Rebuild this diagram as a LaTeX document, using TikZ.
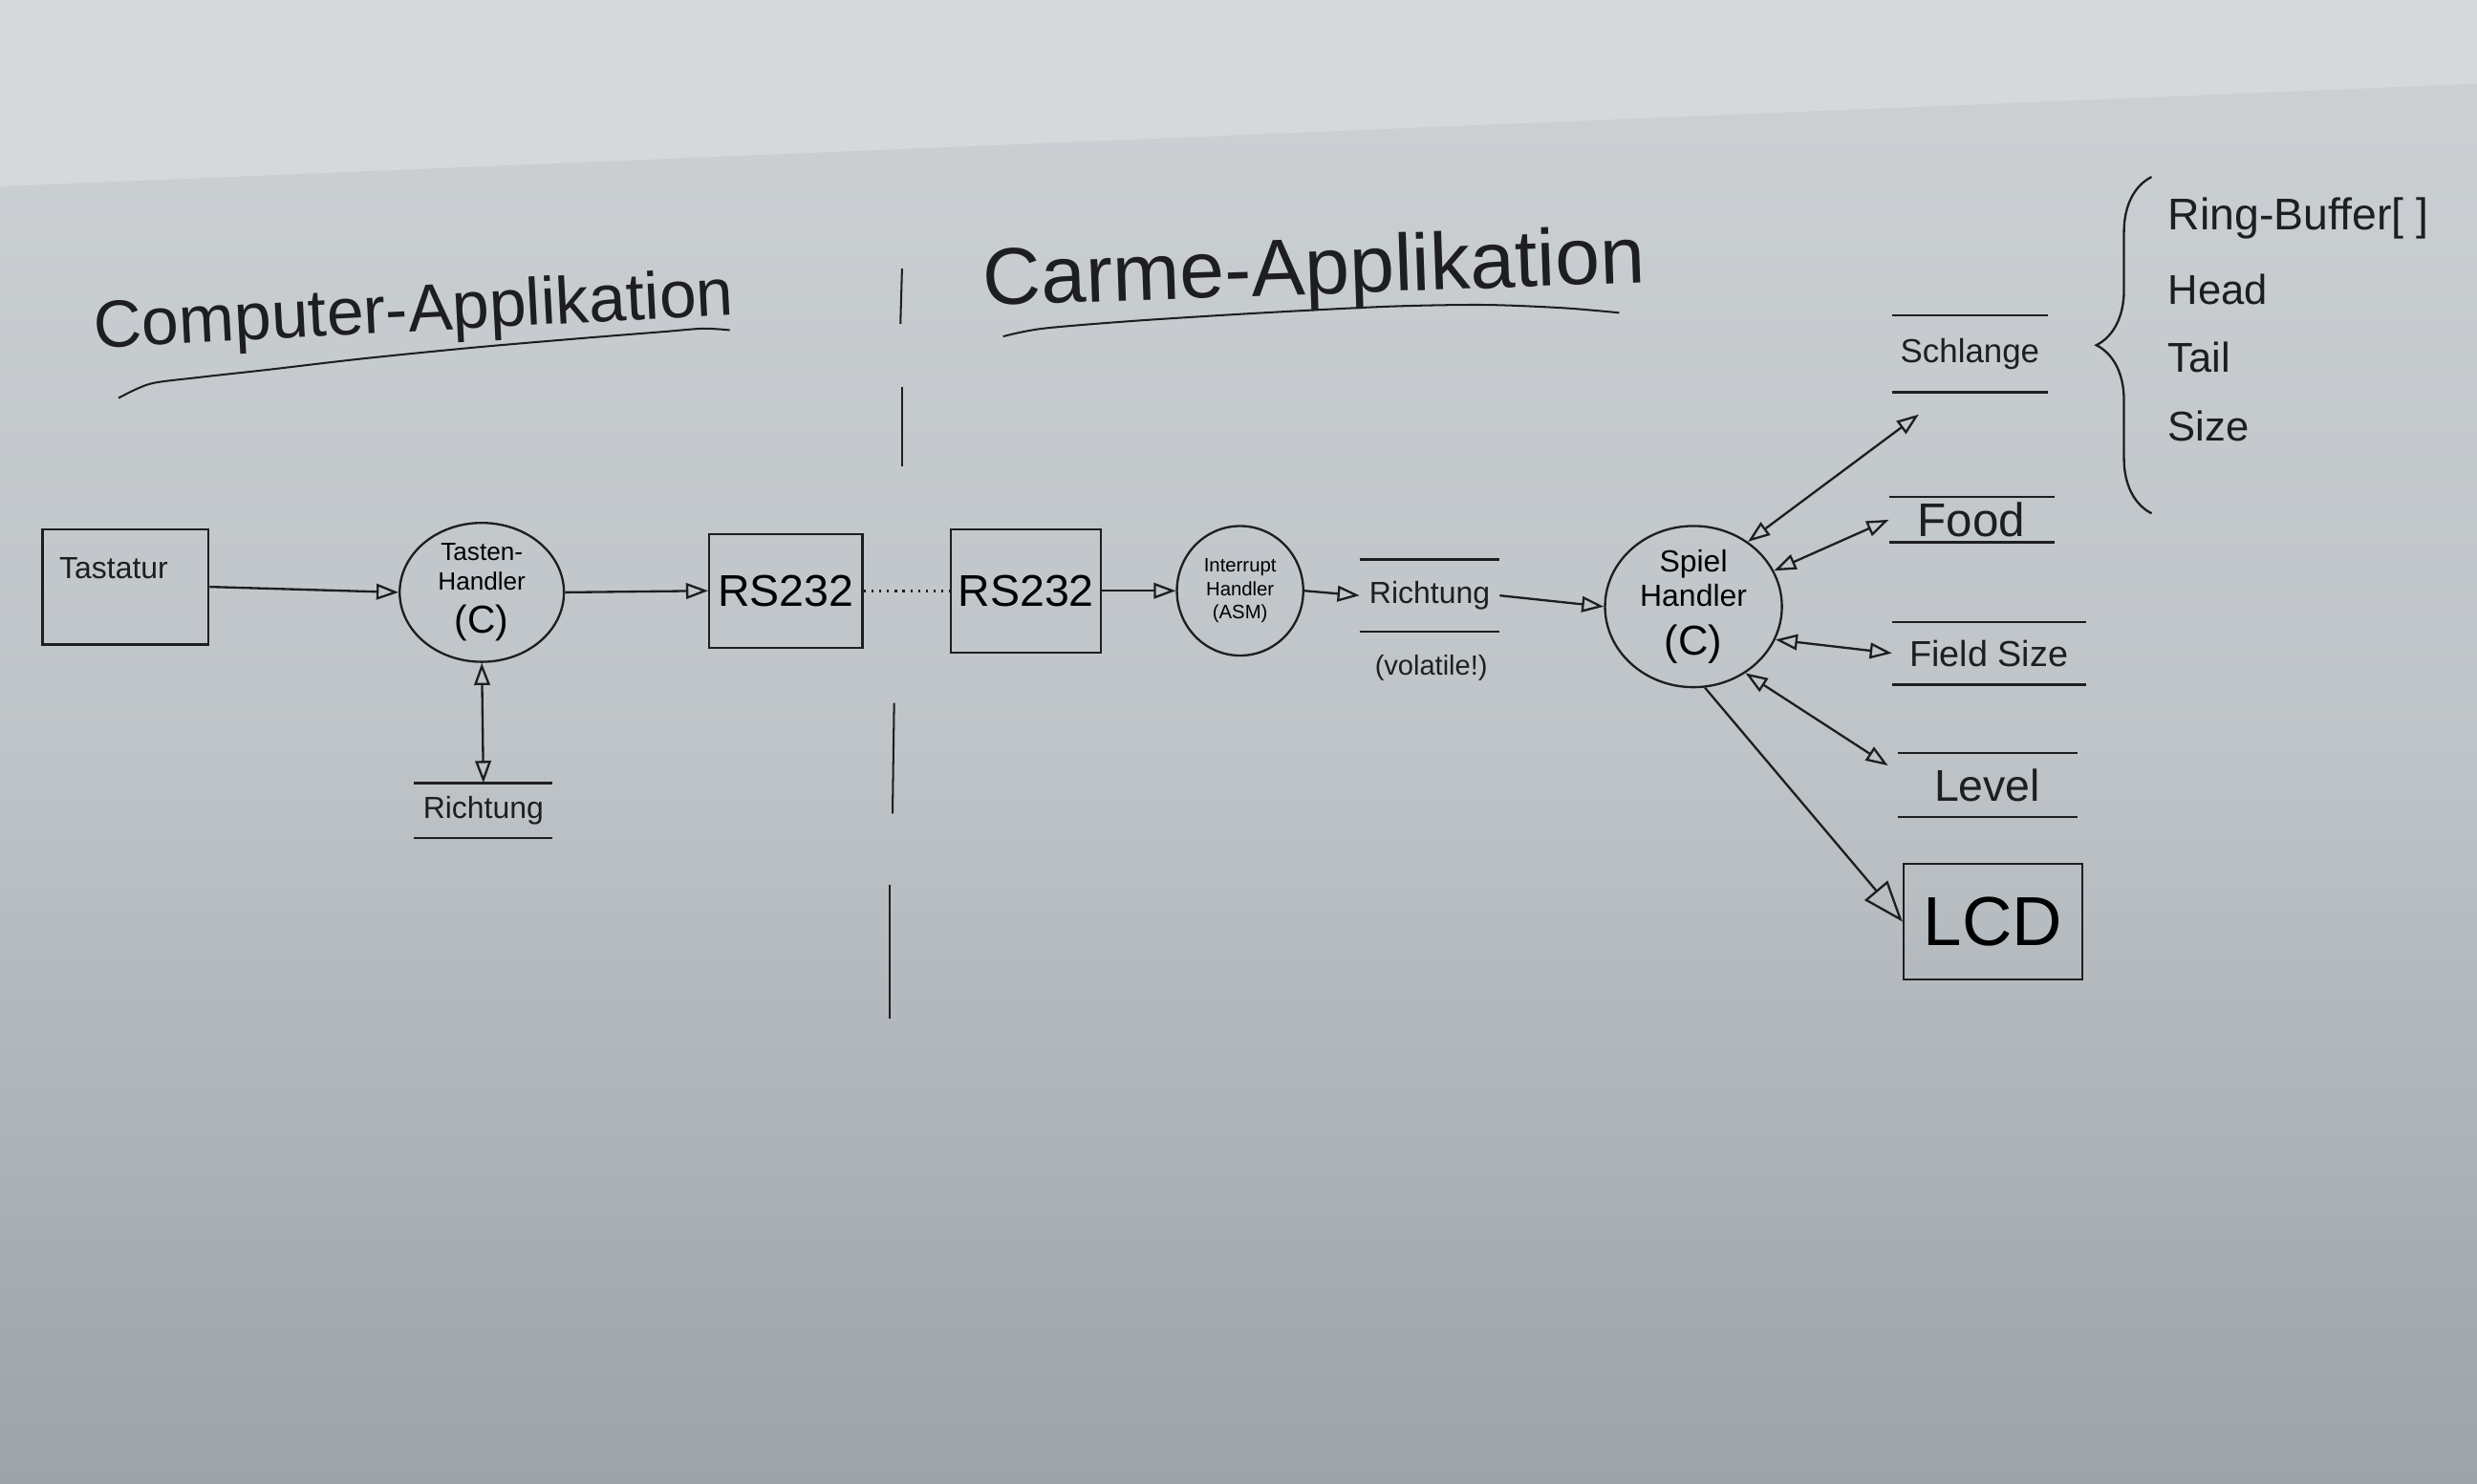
\documentclass[tikz,border=0pt]{standalone}
\usepackage{fontspec}
\setmainfont{Liberation Sans}
\usetikzlibrary{arrows.meta,shapes.geometric,decorations.pathreplacing,calc}
\definecolor{wallc}{HTML}{D6D9DB}
\definecolor{boardtop}{HTML}{CDD1D4}
\definecolor{boardmid}{HTML}{BFC4C8}
\definecolor{boardbot}{HTML}{9CA3A9}
\definecolor{inkc}{HTML}{1E1E22}
\begin{document}
\begin{tikzpicture}[x=0.02cm,y=-0.02cm,
  ink/.style={draw=inkc, line width=0.8pt},
  boxn/.style={ink, rectangle, inner sep=0pt},
  procn/.style={ink, ellipse, inner sep=0pt, align=center},
  storen/.style={inner sep=0pt, text=inkc},
  txt/.style={text=inkc, inner sep=0pt},
  arr/.style={ink, -{Triangle[open,length=0.28cm,width=0.2cm]}},
  darr/.style={ink, {Triangle[open,length=0.28cm,width=0.2cm]}-{Triangle[open,length=0.28cm,width=0.2cm]}},
  bigarr/.style={ink, -{Triangle[open,length=0.52cm,width=0.38cm]}},
  divider/.style={ink, line width=0.7pt}
]
% background
\useasboundingbox (0,0) rectangle (1568,939);
\fill[top color=boardtop, bottom color=boardbot, middle color=boardmid] (0,0) rectangle (1568,939);
\fill[wallc] (0,0) -- (1568,0) -- (1568,53) -- (0,118) -- cycle;

% titles
\node[txt, rotate=3, font=\fontsize{24}{28}\selectfont] (t1) at (262,199) {Computer-Applikation};
\draw[ink, line width=0.7pt] plot[smooth] coordinates {(75,252) (95,243) (125,239) (170,234) (230,227) (300,220) (370,214) (420,210) (445,208) (462,209)};
\node[txt, rotate=2, font=\fontsize{29}{33}\selectfont] (t2) at (832,173) {Carme-Applikation};
\draw[ink, line width=0.7pt] plot[smooth] coordinates {(635,213) (660,208) (720,203) (800,198) (880,194) (940,193) (990,195) (1025,198)};

% dividing line
\draw[divider] (571,170) -- (570,205);
\draw[divider] (571,245) -- (571,295);
\draw[divider] (566,445) -- (565,515);
\draw[divider] (563,560) -- (563,645);

% left side
\node[boxn, minimum width=2.1cm, minimum height=1.46cm] (tast) at (79.5,371.5) {};
\node[txt, font=\fontsize{11}{13}\selectfont] (tastl) at (72,360) {Tastatur};
\node[procn, minimum width=2.08cm, minimum height=1.76cm, font=\fontsize{9}{10.5}\selectfont] (th) at (305,375) {Tasten-\\Handler\\[5pt]{\fontsize{14}{15}\selectfont (C)}};
\node[boxn, minimum width=1.94cm, minimum height=1.44cm, font=\fontsize{16}{18}\selectfont] (rs1) at (497.5,374) {RS232};
\node[storen, minimum width=1.74cm, minimum height=0.68cm, font=\fontsize{11}{13}\selectfont] (ri2) at (306,513) {Richtung};

% right side
\node[boxn, minimum width=1.9cm, minimum height=1.56cm, font=\fontsize{16}{18}\selectfont] (rs2) at (649.5,374) {RS232};
\node[procn, minimum width=1.6cm, minimum height=1.64cm, font=\fontsize{7}{8.5}\selectfont] (ih) at (785,374) {Interrupt\\Handler\\(ASM)};
\node[storen, minimum width=1.76cm, minimum height=0.9cm, font=\fontsize{11}{13}\selectfont] (ri1) at (905,377) {Richtung};
\node[txt, font=\fontsize{10}{12}\selectfont] (vol) at (906,423) {(volatile!)};
\node[procn, minimum width=2.24cm, minimum height=1.96cm, font=\fontsize{11}{12.5}\selectfont] (sh) at (1072,384) {Spiel\\Handler\\[5pt]{\fontsize{15}{16}\selectfont (C)}};

\node[storen, minimum width=1.96cm, minimum height=0.96cm, font=\fontsize{12}{14}\selectfont] (schl) at (1247,224) {Schlange};
\node[storen, minimum width=2.08cm, minimum height=0.56cm, font=\fontsize{17}{19}\selectfont] (food) at (1248,329) {Food};
\node[storen, minimum width=2.44cm, minimum height=0.78cm, font=\fontsize{13}{15}\selectfont] (fs) at (1259,413.5) {Field Size};
\node[storen, minimum width=2.26cm, minimum height=0.8cm, font=\fontsize{16}{18}\selectfont] (lev) at (1258,497) {Level};
\node[boxn, minimum width=2.26cm, minimum height=1.46cm, font=\fontsize{25}{28}\selectfont] (lcd) at (1261.5,583.5) {LCD};

\foreach \n in {ri1,ri2,schl,food,fs,lev} {
  \draw[ink] (\n.north west) -- (\n.north east);
  \draw[ink] (\n.south west) -- (\n.south east);
}

% brace with Schlange fields
\draw[ink, decorate, decoration={brace, amplitude=0.7cm}] (1362,325) -- (1362,112);
\node[txt, anchor=west, font=\fontsize{16}{18}\selectfont] (rb) at (1372,138) {Ring-Buffer[ ]};
\node[txt, anchor=west, font=\fontsize{15}{17}\selectfont] (hd) at (1372,183) {Head};
\node[txt, anchor=west, font=\fontsize{15}{17}\selectfont] (tl) at (1372,226) {Tail};
\node[txt, anchor=west, font=\fontsize{15}{17}\selectfont] (sz) at (1372,270) {Size};

% connectors
\draw[arr] (tast.east) -- (th.west);
\draw[arr] (th.east) -- (rs1.west);
\draw[ink, dotted, line width=0.9pt] (rs1.east) -- (rs2.west);
\draw[arr] (rs2.east) -- (ih.west);
\draw[arr] (ih.east) -- (ri1.west);
\draw[arr] (ri1.east) -- (sh.west);
\draw[darr] (th.south) -- (ri2.north);

\coordinate (schlend) at ($(schl.south west)+(17,14)$);
\coordinate (levend) at ($(lev.north west)+(-6,8)$);
\draw[darr] (sh.50) -- (schlend);
\draw[darr] (sh.24) -- (food.west);
\draw[darr] (sh.-22) -- (fs.west);
\draw[darr] (sh.-52) -- (levend);
\draw[bigarr] (sh.-82) -- (lcd.west);
\end{tikzpicture}
\end{document}
